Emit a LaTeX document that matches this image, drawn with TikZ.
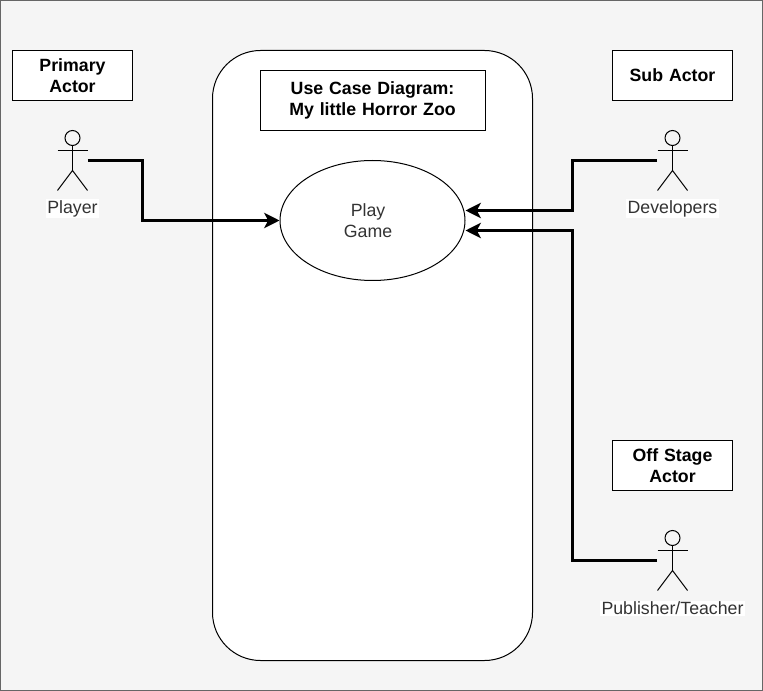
\documentclass[tikz,border=0pt]{standalone}
\usepackage{fontspec}
\setmainfont{Liberation Sans}
\usepackage{tikz}
\usetikzlibrary{positioning,calc}
\usetikzlibrary{arrows.meta,shapes.geometric}
\definecolor{ZooGray}{RGB}{245,245,245}
\definecolor{FrameGray}{RGB}{102,102,102}
\definecolor{TextGray}{RGB}{51,51,51}
\newcommand{\zoofont}{\fontsize{13.3}{15.75}\selectfont}
\tikzset{
  figure/.style={inner sep=0pt,minimum width=22.5pt,minimum height=45pt},
  limb/.style={draw=black,line width=0.75pt},
  tag/.style={draw=black,fill=white,line width=0.75pt,align=center,inner sep=0pt,
    font=\zoofont\bfseries,text width=90pt,minimum height=37.5pt},
  caption/.style={fill=white,inner sep=1pt,text=TextGray,font=\zoofont},
  link/.style={draw=black,line width=2.25pt},
  linkarrow/.style={link,-{Stealth[length=11.5pt,width=11.5pt,inset=3pt]}},
  actor/.pic={
    \draw[limb] (0,-22.5) circle (7.5);
    \draw[limb] (0,-15) -- (0,10);
    \draw[limb] (-15,-10) -- (15,-10);
    \draw[limb] (-15,30) -- (0,10) -- (15,30);
  },
}

\begin{document}
\begin{tikzpicture}[x=0.75pt,y=-0.75pt]
\useasboundingbox (0,0) rectangle (763,691);
\draw[draw=FrameGray,fill=ZooGray,line width=1pt] (0.5,0.5) rectangle (762.5,690.5);
\draw[limb,fill=white,rounded corners=36pt] (212.5,50.5) rectangle (532.5,660.5);

% actors
\node[figure] (player) at (72.5,160.5) {};
\node[figure] (developers) at (672.5,160.5) {};
\node[figure] (publisher) at (672.5,560.5) {};
\pic at (player) {actor};
\pic at (developers) {actor};
\pic at (publisher) {actor};
\node[caption] (playerlabel) at (72.5,208.5) {Player};
\node[caption] (developerslabel) at (672.5,208.5) {Developers};
\node[caption] (publisherlabel) at (672.5,608.5) {Publisher/Teacher};

% boxes
\node[tag] (primary) at (72.5,75.5) {Primary\\Actor};
\node[tag] (sub) at (672.5,75.5) {Sub Actor};
\node[tag] (offstage) at (672.5,465.5) {Off Stage\\Actor};
\node[tag,text width=168.75pt,minimum height=45pt] (title) at (372.5,100.5) {Use Case Diagram:\\My little Horror Zoo};
\node[ellipse,draw=black,fill=white,line width=0.75pt,inner sep=0pt,minimum width=138.75pt,
  minimum height=90pt] (game) at (372.5,220.5) {};
\node[align=center,text=TextGray,font=\zoofont,inner sep=0pt] (gamelabel) at (368,220.5) {Play\\Game};

\coordinate (gameupper) at ($(game.east)+(0,-10)$);
\coordinate (gamelower) at ($(game.east)+(0,10)$);

% connectors
\draw[linkarrow] (player.east) -- ++(55,0) |- (game.west);
\draw[linkarrow] (developers.west) -- ++(-85,0) |- (gameupper);
\draw[linkarrow] (publisher.west) -- ++(-85,0) |- (gamelower);
\end{tikzpicture}
\end{document}
